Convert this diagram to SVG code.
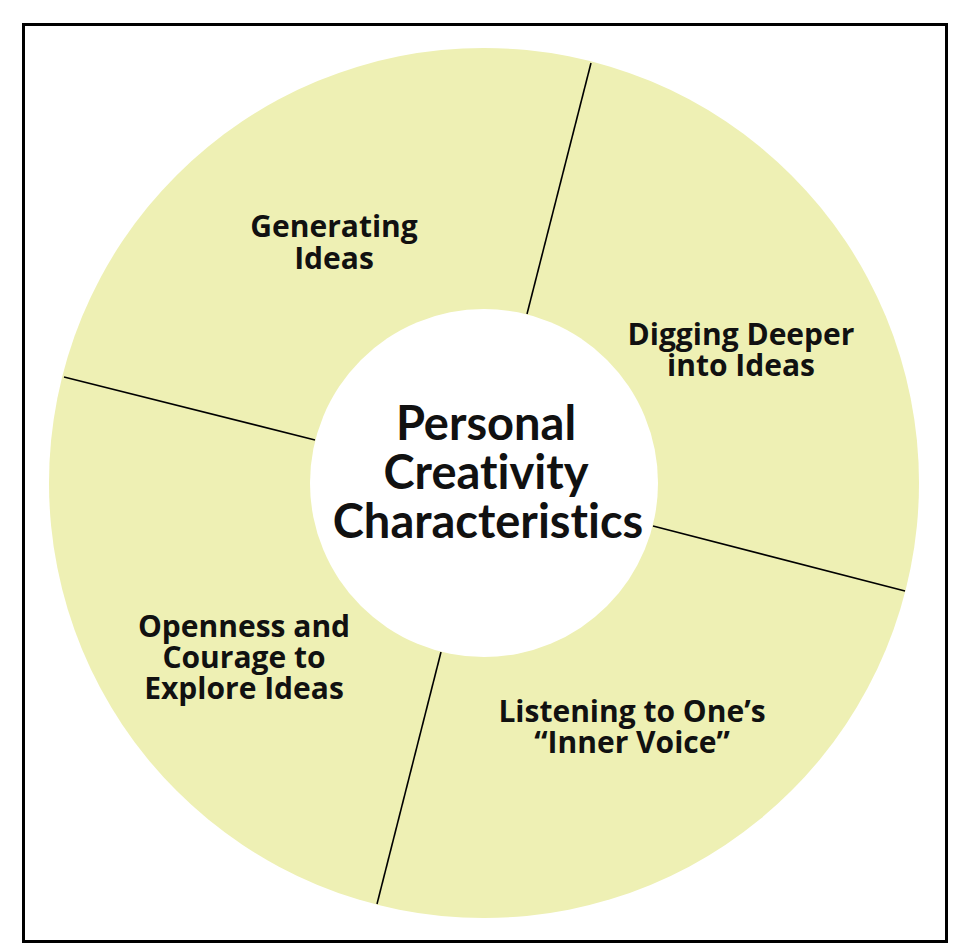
<svg xmlns="http://www.w3.org/2000/svg" width="969" height="943" viewBox="0 0 969 943">
<style>
.lbl{font-family:"Open Sans","Noto Sans","Liberation Sans",sans-serif;font-weight:bold;font-size:30px;fill:#111;text-anchor:middle;font-variant-ligatures:none}
.ctr{font-family:Lato,"Open Sans","Liberation Sans",sans-serif;font-weight:bold;font-size:47px;fill:#111;text-anchor:middle;font-variant-ligatures:none}
.div{stroke:#000;stroke-width:1.6;fill:none}
</style>
<rect x="0" y="0" width="969" height="943" fill="#fff"/>
<rect x="23.5" y="24.5" width="923" height="917" fill="none" stroke="#000" stroke-width="3"/>
<g id="ring">
<circle cx="484" cy="483" r="435" fill="#eef0b4"/>
</g>
<g id="connectors">
<line class="div" x1="527" y1="314" x2="591" y2="63"/>
<line class="div" x1="315" y1="440" x2="64" y2="377"/>
<line class="div" x1="653" y1="526" x2="905" y2="591"/>
<line class="div" x1="441" y1="652" x2="377" y2="904"/>
</g>
<g id="center">
<circle cx="484" cy="483" r="174" fill="#fff"/>
<text class="ctr" x="486" y="440">Personal</text>
<text class="ctr" x="486" y="489">Creativity</text>
<text class="ctr" x="488" y="538">Characteristics</text>
</g>
<g id="node-generating">
<text class="lbl" x="334" y="237">Generating</text>
<text class="lbl" x="334" y="269">Ideas</text>
</g>
<g id="node-digging">
<text class="lbl" x="741" y="345">Digging Deeper</text>
<text class="lbl" x="741" y="376">into Ideas</text>
</g>
<g id="node-openness">
<text class="lbl" x="244" y="637">Openness and</text>
<text class="lbl" x="244" y="668">Courage to</text>
<text class="lbl" x="244" y="699">Explore Ideas</text>
</g>
<g id="node-listening">
<text class="lbl" x="632" y="722">Listening to One’s</text>
<text class="lbl" x="632" y="753">“Inner Voice”</text>
</g>
</svg>
